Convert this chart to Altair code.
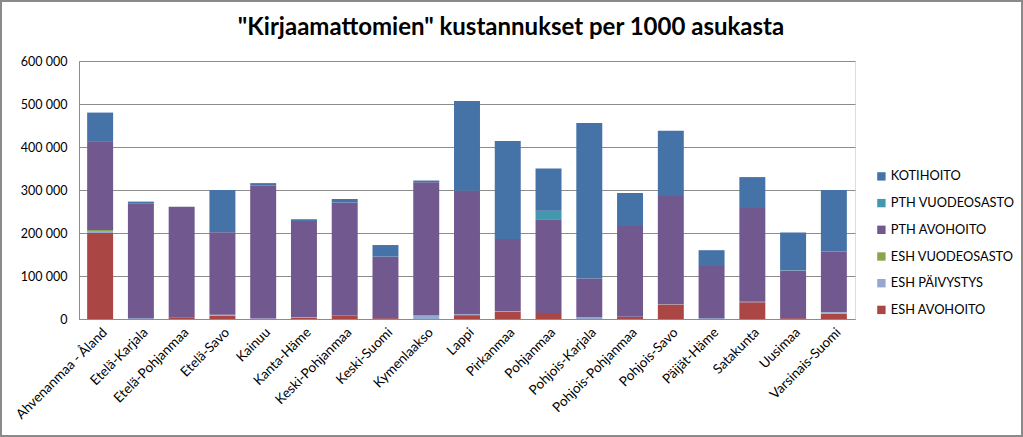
import altair as alt
import pandas as pd

regions = ["Ahvenanmaa - Åland", "Etelä-Karjala", "Etelä-Pohjanmaa", "Etelä-Savo", "Kainuu",
           "Kanta-Häme", "Keski-Pohjanmaa", "Keski-Suomi", "Kymenlaakso", "Lappi", "Pirkanmaa",
           "Pohjanmaa", "Pohjois-Karjala", "Pohjois-Pohjanmaa", "Pohjois-Savo", "Päijät-Häme",
           "Satakunta", "Uusimaa", "Varsinais-Suomi"]

esh_avohoito = [200000, 0, 3000, 8000, 0, 3000, 8000, 2000, 0, 9000, 17000,
                14000, 0, 5000, 34000, 0, 39000, 2000, 12000]
esh_paivystys = [3000, 2000, 0, 2000, 1000, 1000, 0, 0, 8000, 2000, 1000,
                 0, 4000, 0, 1000, 2000, 1000, 0, 4000]
esh_vuodeosasto = [4000, 0, 0, 0, 0, 0, 0, 0, 0, 0, 0,
                   0, 0, 0, 0, 0, 0, 0, 0]
pth_avohoito = [205000, 266000, 258000, 192000, 309000, 224000, 263000, 143000, 310000, 287000, 168000,
                218000, 90000, 211000, 251000, 121000, 218000, 111000, 141000]
pth_vuodeosasto = [0, 0, 0, 0, 0, 0, 0, 0, 0, 0, 0,
                   20000, 0, 0, 0, 0, 0, 1000, 0]
kotihoito = [68000, 5000, 0, 98000, 6000, 4000, 8000, 27000, 4000, 209000, 228000,
             98000, 362000, 77000, 152000, 37000, 72000, 87000, 143000]

series_names = ["ESH AVOHOITO", "ESH PÄIVYSTYS", "ESH VUODEOSASTO", "PTH AVOHOITO",
                "PTH VUODEOSASTO", "KOTIHOITO"]
series_values = [esh_avohoito, esh_paivystys, esh_vuodeosasto, pth_avohoito,
                 pth_vuodeosasto, kotihoito]
series_colors = ["#AA4643", "#93A9CF", "#89A54E", "#71588F", "#4198AF", "#4572A7"]

title_text = "\"Kirjaamattomien\" kustannukset per 1000 asukasta"

rows = []
for si, (name, vals) in enumerate(zip(series_names, series_values)):
    for r, v in zip(regions, vals):
        rows.append({"alue": r, "sarja": name, "arvo": v, "jarj": si})
df = pd.DataFrame(rows)

legend_order = list(reversed(series_names))
legend_colors = list(reversed(series_colors))

FONT = "Lato"

bars = alt.Chart(df).mark_bar().encode(
    x=alt.X("alue:N", sort=regions, title=None,
            scale=alt.Scale(paddingInner=0.363, paddingOuter=0.2),
            axis=alt.Axis(labelAngle=-45, labelAlign="right", labelBaseline="top",
                          labelFontSize=13.5, labelColor="#000000", labelFont=FONT,
                          ticks=False, domainColor="#8c8c8c", labelPadding=6,
                          labelOverlap=False)),
    y=alt.Y("arvo:Q", stack="zero", title=None,
            scale=alt.Scale(domain=[0, 600000], nice=False),
            axis=alt.Axis(values=[0, 100000, 200000, 300000, 400000, 500000, 600000],
                          labelExpr="replace(format(datum.value, ','), ',', ' ')",
                          labelFontSize=12.5, labelColor="#000000", labelFont=FONT,
                          ticks=False, labelPadding=12, domainColor="#8c8c8c",
                          gridColor="#8c8c8c", gridWidth=1.2)),
    color=alt.Color("sarja:N", title=None,
                    scale=alt.Scale(domain=legend_order, range=legend_colors),
                    legend=alt.Legend(orient="none", legendX=796, legendY=109,
                                      symbolType="square", symbolSize=70,
                                      symbolStrokeWidth=0,
                                      labelFontSize=12.8, labelFont=FONT, labelColor="#000000",
                                      rowPadding=12.7, labelOffset=3)),
    order=alt.Order("jarj:Q", sort="ascending"),
)

single = pd.DataFrame({"t": [title_text]})

title_mark = alt.Chart(single).mark_text(
    font=FONT, fontSize=24, fontWeight="bold", color="#000000",
    align="center", baseline="middle", clip=False
).encode(x=alt.value(432), y=alt.value(-33), text="t:N")

frame = alt.Chart(single).mark_rect(
    fill=None, stroke="#8a8a8a", strokeWidth=2, clip=False
).encode(
    x=alt.value(-78), x2=alt.value(943), y=alt.value(-60), y2=alt.value(375)
)

chart = alt.layer(bars, title_mark, frame).properties(
    width=776, height=258,
    autosize=alt.AutoSizeParams(type="none"),
    padding={"left": 79, "top": 61, "right": 168, "bottom": 118},
).configure_view(stroke=None).configure(background="#ffffff")

chart.save("out.html", embed_options={"renderer": "svg", "actions": False})
